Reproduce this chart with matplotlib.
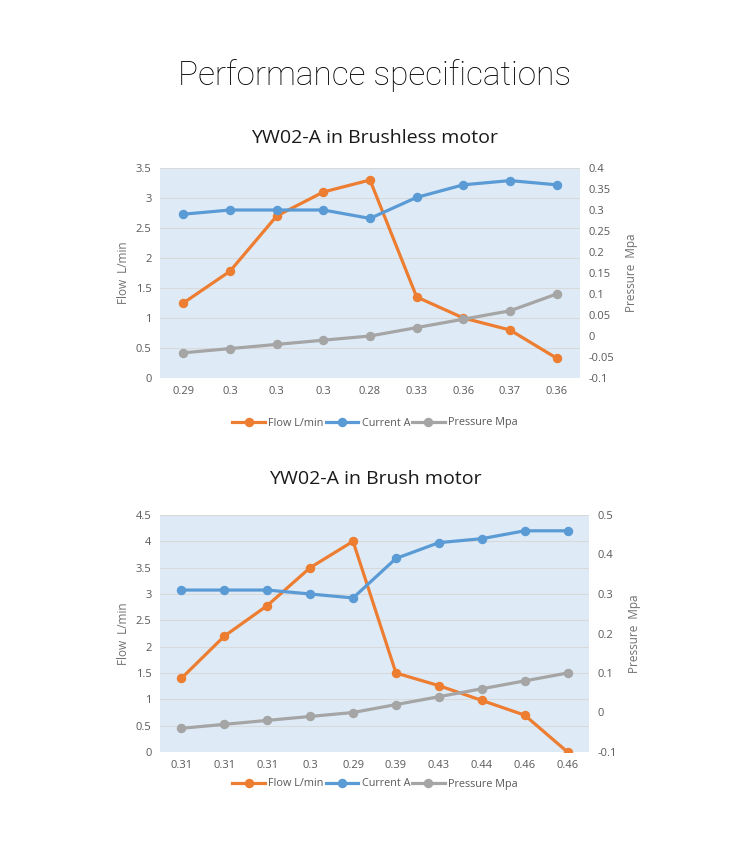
import matplotlib.pyplot as plt
from matplotlib.ticker import MultipleLocator, FuncFormatter

# brushless motor data
bl_labels = ["0.29", "0.3", "0.3", "0.3", "0.28", "0.33", "0.36", "0.37", "0.36"]
bl_flow = [1.25, 1.78, 2.7, 3.1, 3.3, 1.35, 1.0, 0.8, 0.33]
bl_current = [0.29, 0.30, 0.30, 0.30, 0.28, 0.33, 0.36, 0.37, 0.36]
bl_pressure = [-0.04, -0.03, -0.02, -0.01, 0.0, 0.02, 0.04, 0.06, 0.10]

# brush motor data
br_labels = ["0.31", "0.31", "0.31", "0.3", "0.29", "0.39", "0.43", "0.44", "0.46", "0.46"]
br_flow = [1.4, 2.2, 2.78, 3.5, 4.0, 1.5, 1.26, 0.98, 0.7, 0.0]
br_current = [0.31, 0.31, 0.31, 0.30, 0.29, 0.39, 0.43, 0.44, 0.46, 0.46]
br_pressure = [-0.04, -0.03, -0.02, -0.01, 0.0, 0.02, 0.04, 0.06, 0.08, 0.10]

ORANGE = "#ED7D31"
BLUE = "#5B9BD5"
GRAY = "#A5A5A5"
TXT = "#595959"
FONT = ["Open Sans", "DejaVu Sans"]

W, H = 750, 856
fig = plt.figure(figsize=(W / 100, H / 100), dpi=100)
fig.patch.set_facecolor("white")

fmt = FuncFormatter(lambda v, p: "%g" % round(v, 4))


def px_axes(left, top, right, bottom):
    return fig.add_axes([left / W, 1 - bottom / H, (right - left) / W, (bottom - top) / H])


def chart(ax, labels, flow, current, pressure, ymax, ystep, rmin, rmax, rstep, title, title_y, leg_y):
    x = list(range(len(labels)))
    ax.set_facecolor("#DEEBF7")
    ax2 = ax.twinx()
    kw = dict(lw=2.3, marker="o", ms=5.8)
    l1, = ax.plot(x, flow, color=ORANGE, zorder=4, **kw)
    l2, = ax2.plot(x, current, color=BLUE, zorder=3, **kw)
    l3, = ax2.plot(x, pressure, color=GRAY, zorder=2, **kw)

    ax.set_xlim(-0.5, len(labels) - 0.5)
    ax.set_ylim(0, ymax)
    ax.yaxis.set_major_locator(MultipleLocator(ystep))
    ax.yaxis.set_major_formatter(fmt)
    ax2.set_ylim(rmin, rmax)
    ax2.yaxis.set_major_locator(MultipleLocator(rstep))
    ax2.yaxis.set_major_formatter(fmt)
    ax.set_xticks(x)
    ax.set_xticklabels(labels)
    ax.grid(axis="y", color="#D9D9D9", lw=0.8)
    ax.set_axisbelow(True)

    for a in (ax, ax2):
        for s in a.spines.values():
            s.set_visible(False)
        a.tick_params(length=0, labelsize=8, labelcolor=TXT, pad=6)
        for t in a.get_xticklabels() + a.get_yticklabels():
            t.set_fontfamily(FONT)

    ax.set_ylabel("Flow  L/min", fontsize=8.5, color="#707070", family=FONT, labelpad=4)
    ax2.set_ylabel("Pressure  Mpa", fontsize=8.5, color="#707070", family=FONT, labelpad=8)

    fig.text(0.5, 1 - title_y / H, title, ha="center", va="center",
             fontsize=14, color="#1a1a1a", family=FONT)
    fig.legend([l1, l2, l3], ["Flow L/min", "Current A", "Pressure Mpa"],
               loc="center", bbox_to_anchor=(0.5, 1 - leg_y / H), ncol=3, frameon=False,
               prop={"family": FONT, "size": 7.8}, labelcolor=TXT,
               handlelength=3, handletextpad=0.3, columnspacing=0.2)


fig.text(0.5, 1 - 76 / H, "Performance specifications", ha="center", va="center",
         fontsize=24, color="black", family=["Roboto", "DejaVu Sans"], fontweight="light")

ax_top = px_axes(160, 168, 580, 378)
chart(ax_top, bl_labels, bl_flow, bl_current, bl_pressure, 3.5, 0.5, -0.1, 0.4, 0.05,
      "YW02-A in Brushless motor", 138, 423)

ax_bot = px_axes(160, 515, 589, 752)
chart(ax_bot, br_labels, br_flow, br_current, br_pressure, 4.5, 0.5, -0.1, 0.5, 0.1,
      "YW02-A in Brush motor", 479, 784)

fig.savefig("out.png", dpi=100, facecolor="white")
